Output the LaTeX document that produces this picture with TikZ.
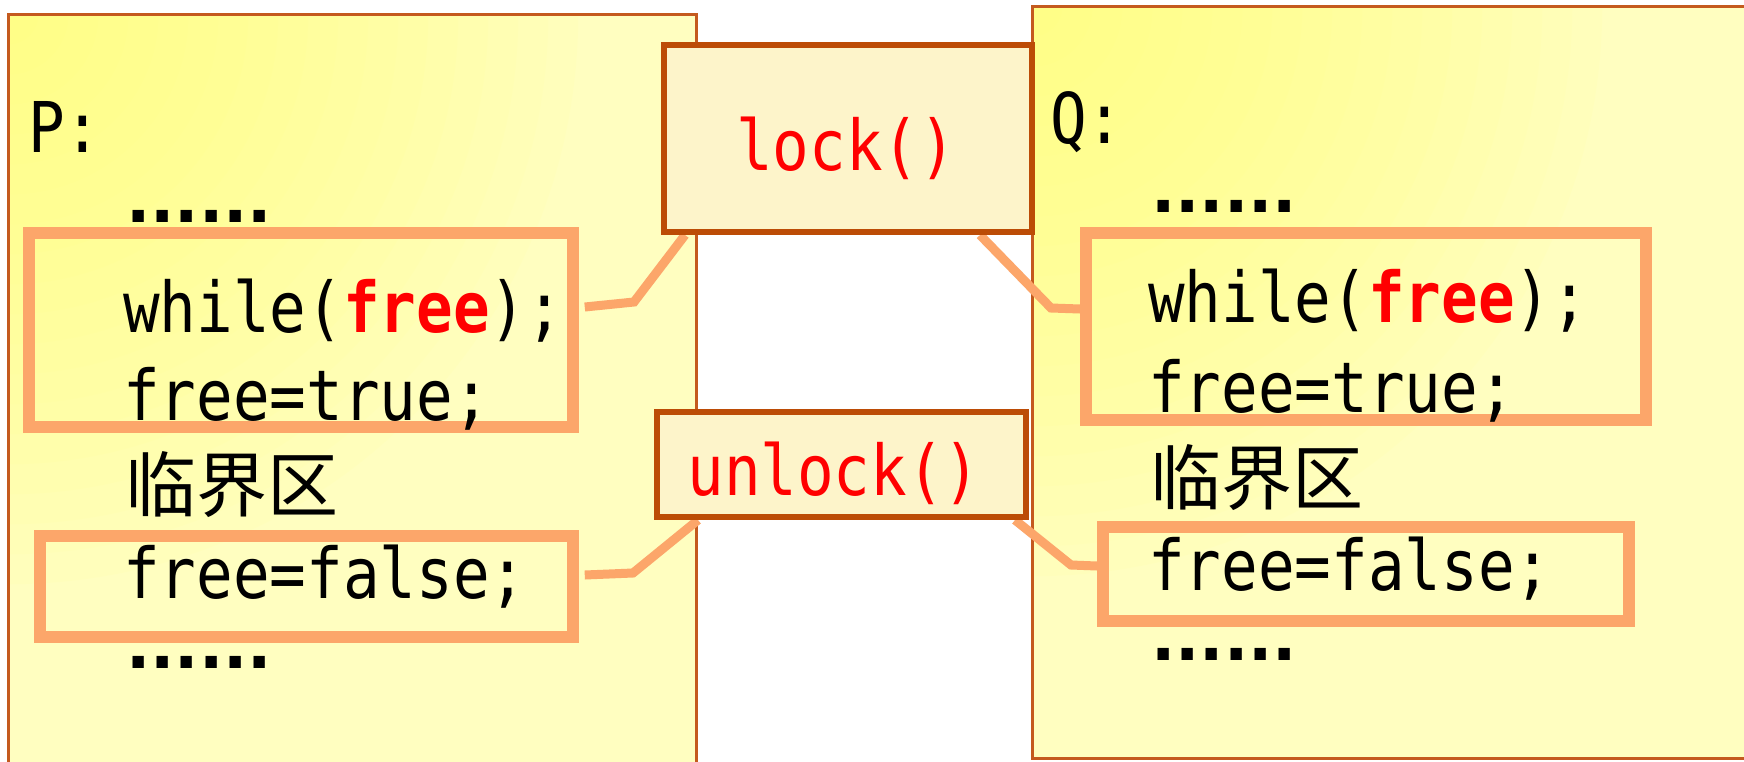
\documentclass[tikz,border=0pt]{standalone}
\usepackage{fontspec}
\newfontfamily\codefont[FakeStretch=0.87]{DejaVu Sans Mono}
\newfontfamily\dotfont{DejaVu Sans}
\newfontfamily\cjkfont{Noto Sans CJK SC}
\definecolor{panelhi}{RGB}{255,255,110}
\definecolor{panellow}{RGB}{255,254,192}
\definecolor{panelline}{RGB}{196,90,30}
\definecolor{boxline}{RGB}{188,76,6}
\definecolor{boxfill}{RGB}{253,244,202}
\definecolor{salmon}{RGB}{252,166,106}
\definecolor{codered}{RGB}{255,0,0}
\begin{document}
\begin{tikzpicture}[x=1pt,y=-1pt,
  panel/.style={draw=panelline, line width=2.5pt, fill=panellow, inner sep=0pt, anchor=north west,
     path picture={\foreach \r in {30,60,...,570} {\fill[panelhi, fill opacity=0.05] (path picture bounding box.north west) circle (\r pt);}}},
  hibox/.style={draw=salmon, line width=11.5pt, inner sep=0pt},
  fnbox/.style={draw=boxline, line width=6pt, fill=boxfill, inner sep=0pt},
  conn/.style={draw=salmon, line width=9pt},
  code/.style={inner sep=0pt, anchor=base west, font=\codefont\fontsize{70}{70}\selectfont},
  fntext/.style={inner sep=0pt, anchor=base, text=codered, font=\codefont\fontsize{70}{70}\selectfont},
  dots/.style={inner sep=0pt, anchor=base west, font=\dotfont\bfseries\fontsize{64}{64}\selectfont},
  cjk/.style={inner sep=0pt, anchor=base west, font=\cjkfont\fontsize{71}{71}\selectfont},
]
\useasboundingbox (0,0) rectangle (1744,761);
\clip (0,0) rectangle (1744,761);
\fill[white] (0,0) rectangle (1744,761);

% panels
\node[panel, minimum width=688pt, minimum height=800pt] (P) at (7,13) {};
\node[panel, minimum width=800pt, minimum height=752pt] (Q) at (1031,5) {};

% highlight boxes
\node[hibox, minimum width=544pt, minimum height=194pt] (b1) at (301,330) {};
\node[hibox, minimum width=533pt, minimum height=101pt] (b2) at (306.5,586.5) {};
\node[hibox, minimum width=560pt, minimum height=187pt] (b3) at (1366,326.5) {};
\node[hibox, minimum width=526pt, minimum height=94pt] (b4) at (1366,574) {};

% P text
\node[code] (ptitle) at (28,152) {P:};
\node[dots] (pdots1) at (126,222) {......};
\node[code] (pwhile) at (123,332) {while(\textcolor{codered}{\bfseries free});};
\node[code] (ptrue) at (123,420) {free=true;};
\node[cjk] (pcrit) at (125,511) {临界区};
\node[code] (pfalse) at (123,598) {free=false;};
\node[dots] (pdots2) at (126,668) {......};

% Q text
\node[code] (qtitle) at (1050,143) {Q:};
\node[dots] (qdots1) at (1151,212) {......};
\node[code] (qwhile) at (1148,322) {while(\textcolor{codered}{\bfseries free});};
\node[code] (qtrue) at (1148,412) {free=true;};
\node[cjk] (qcrit) at (1150,504) {临界区};
\node[code] (qfalse) at (1148,590) {free=false;};
\node[dots] (qdots2) at (1151,660) {......};

% connector bends
\coordinate (k1) at (634,302);
\coordinate (k2) at (1051,308);
\coordinate (k3) at (633,573);
\coordinate (k4) at (1071,565);

% function box frames (positions; drawn after the connectors)
\path (848,138.5) coordinate (lockc);
\path (841.5,464.5) coordinate (unlockc);
\node[fnbox, draw=none, fill=none, minimum width=368pt, minimum height=187pt] (lock0) at (lockc) {};
\node[fnbox, draw=none, fill=none, minimum width=369pt, minimum height=105pt] (unlock0) at (unlockc) {};

\draw[conn] ([xshift=6pt,yshift=23pt]b1.east) -- (k1) -- ([xshift=24pt]lock0.south west);
\draw[conn] ([xshift=-55pt]lock0.south east) -- (k2) -- ([yshift=17.5pt]b3.west);
\draw[conn] ([xshift=6pt,yshift=11.5pt]b2.east) -- (k3) -- ([xshift=44pt]unlock0.south west);
\draw[conn] ([xshift=-14pt]unlock0.south east) -- (k4) -- ([yshift=8pt]b4.west);

\node[fnbox, minimum width=368pt, minimum height=187pt] (lock) at (lockc) {};
\node[fnbox, minimum width=369pt, minimum height=105pt] (unlock) at (unlockc) {};
\node[fntext] (locktxt) at (846,170) {lock()};
\node[fntext] (unlocktxt) at (834,495) {unlock()};
\end{tikzpicture}
\end{document}
